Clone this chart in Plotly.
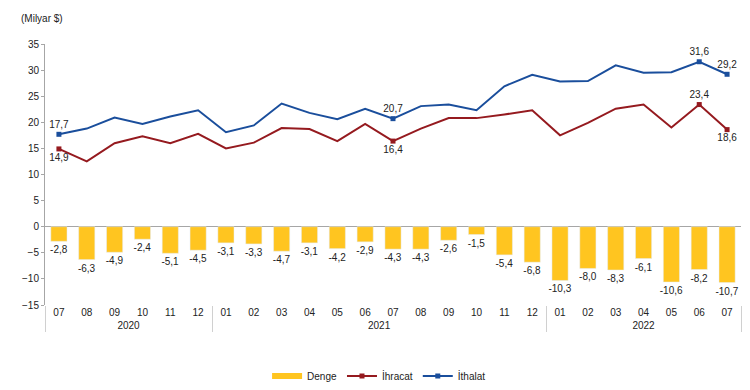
import plotly.graph_objects as go

ZW = "\u200b"  # keeps 2020's month labels distinct so that category order is preserved
years = ["2020"] * 6 + ["2021"] * 12 + ["2022"] * 7
months = ["07", "08", "09", "10", "11", "12",
          "01", "02", "03", "04", "05", "06", "07", "08", "09", "10", "11", "12",
          "01", "02", "03", "04", "05", "06", "07"]

denge = [-2.8, -6.3, -4.9, -2.4, -5.1, -4.5,
         -3.1, -3.3, -4.7, -3.1, -4.2, -2.9, -4.3, -4.3, -2.6, -1.5, -5.4, -6.8,
         -10.3, -8.0, -8.3, -6.1, -10.6, -8.2, -10.7]
ihracat = [14.9, 12.5, 16.0, 17.3, 16.0, 17.8,
           15.0, 16.1, 18.9, 18.7, 16.4, 19.7, 16.4, 18.8, 20.8, 20.8, 21.5, 22.3,
           17.5, 19.9, 22.6, 23.4, 19.0, 23.4, 18.6]
ithalat = [17.7, 18.8, 20.9, 19.7, 21.1, 22.3,
           18.1, 19.4, 23.6, 21.8, 20.6, 22.6, 20.7, 23.1, 23.4, 22.3, 26.9, 29.1,
           27.8, 27.9, 30.9, 29.5, 29.6, 31.6, 29.2]

labeled_idx = [0, 12, 23, 24]
ihr_pos = ["bottom center", "bottom center", "top center", "bottom center"]
ith_pos = ["top center", "top center", "top center", "top center"]

FONT = "Liberation Sans, Arial, sans-serif"
BAR_C = "#FFC520"
RED_C = "#951A1F"
BLUE_C = "#1A4E9C"
AX_C = "#A6A6A6"
TXT_C = "#222222"


def fmt(v):
    return f"{v:.1f}".replace(".", ",")


month_keys = [m + ZW if y == "2020" else m for y, m in zip(years, months)]
x_all = [years, month_keys]
fig = go.Figure()

fig.add_trace(go.Bar(
    x=x_all, y=denge, name="Denge", marker_color=BAR_C, showlegend=False,
    text=[fmt(v) for v in denge], textposition="outside", constraintext="none",
    textfont=dict(size=10, color=TXT_C, family=FONT), cliponaxis=False,
))
# legend entry for Denge drawn as a wide flat swatch
fig.add_trace(go.Scatter(
    x=[[None], [None]], y=[None], mode="lines", name="Denge",
    line=dict(color=BAR_C, width=6),
))

for vals, col, name, pos in [(ihracat, RED_C, "İhracat", ihr_pos),
                              (ithalat, BLUE_C, "İthalat", ith_pos)]:
    fig.add_trace(go.Scatter(
        x=x_all, y=vals, mode="lines", line=dict(color=col, width=2),
        showlegend=False, hoverinfo="skip",
    ))
    fig.add_trace(go.Scatter(
        x=[[years[i] for i in labeled_idx], [month_keys[i] for i in labeled_idx]],
        y=[vals[i] for i in labeled_idx],
        mode="markers+text", marker=dict(symbol="square", size=5, color=col),
        text=[fmt(vals[i]) for i in labeled_idx], textposition=pos,
        textfont=dict(size=10, color=TXT_C, family=FONT),
        showlegend=False, cliponaxis=False,
    ))
    fig.add_trace(go.Scatter(
        x=[[None], [None]], y=[None], mode="lines+markers", name=name,
        line=dict(color=col, width=2),
        marker=dict(symbol="square", size=5, color=col),
    ))

# page body keeps its default 8px margin, so the figure is sized to fit inside it
fig.update_layout(
    width=734, height=374,
    margin=dict(l=37, r=1, t=36, b=77, autoexpand=False),
    paper_bgcolor="white", plot_bgcolor="white",
    font=dict(family=FONT, size=10, color=TXT_C),
    bargap=0.42,
    showlegend=True,
    legend=dict(orientation="h", x=0.48, xanchor="center", y=-0.272, yanchor="middle",
                font=dict(size=10, family=FONT, color=TXT_C), itemwidth=30,
                traceorder="normal"),
    annotations=[dict(text="(Milyar $)", xref="paper", yref="paper",
                      x=-0.038, y=1.096, xanchor="left", yanchor="middle",
                      showarrow=False, font=dict(size=10, family=FONT, color=TXT_C))],
)

fig.update_yaxes(range=[-15, 35], dtick=5, showgrid=False, zeroline=True,
                 zerolinecolor=AX_C, zerolinewidth=1, showline=True, linecolor=AX_C,
                 linewidth=1, ticks="outside", ticklen=3, tickcolor=AX_C,
                 tickfont=dict(size=10, family=FONT, color=TXT_C), automargin=False)
fig.update_xaxes(type="multicategory", range=[-0.5, len(months) - 0.5],
                 showgrid=False, showline=False, ticks="",
                 showdividers=True, dividercolor="#D0D0D0", dividerwidth=1,
                 tickfont=dict(size=10, family=FONT, color=TXT_C), automargin=False)

fig.write_html("out.html")
